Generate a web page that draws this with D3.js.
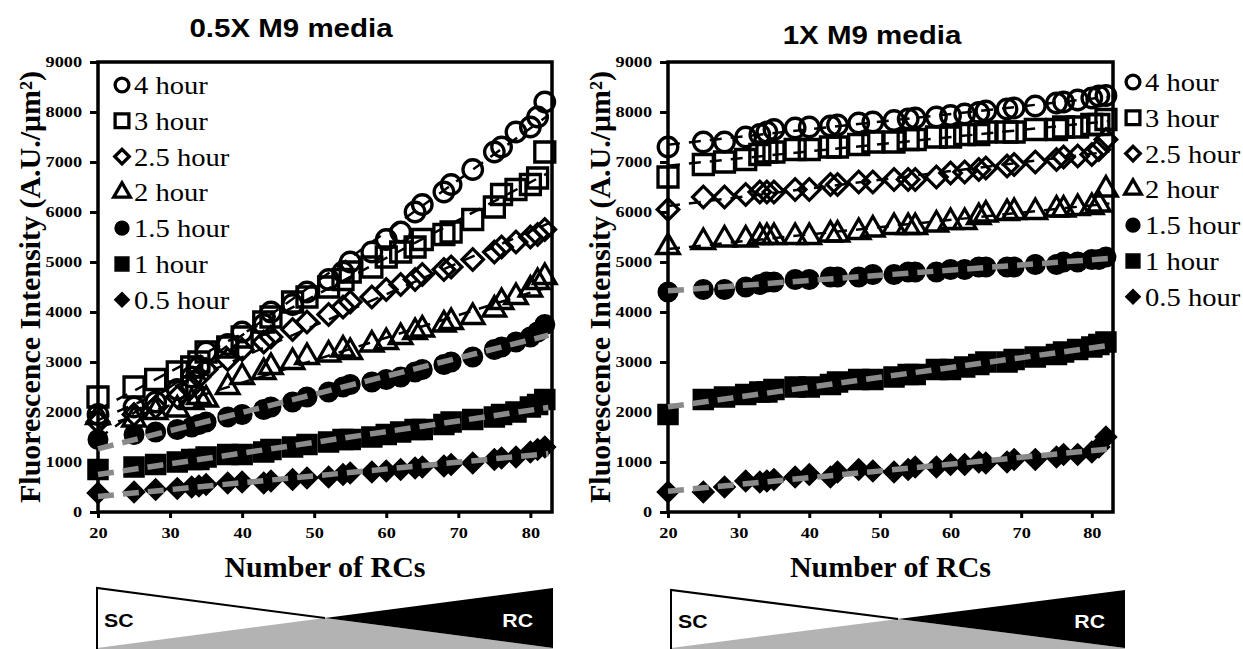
<!DOCTYPE html>
<html>
<head>
<meta charset="utf-8">
<script src="https://cdn.jsdelivr.net/npm/d3@7"></script>
<style>
  body { margin: 0; background: #fff; }
  svg { display: block; }
</style>
</head>
<body>
<svg id="chart" width="1243" height="649"></svg>
<script>
// ---- data ----
var rcs = [20, 25, 28, 31, 33, 34, 35, 38, 40, 43, 44, 47, 49, 52, 54, 55, 58, 60, 62, 64, 65, 68, 69, 72, 75, 76, 78, 80, 81, 82];
var hours = ["4 hour", "3 hour", "2.5 hour", "2 hour", "1.5 hour", "1 hour", "0.5 hour"];
var shapes = ["circle", "square", "diamond", "triangle", "circle", "square", "diamond"];
var filled = [false, false, false, false, true, true, true];
var yTicks = [0, 1000, 2000, 3000, 4000, 5000, 6000, 7000, 8000, 9000];
var xTicks = [20, 30, 40, 50, 60, 70, 80];

// 0.5X M9 media
var half4h  = [1950, 2100, 2200, 2450, 2700, 2900, 3200, 3350, 3600, 3750, 4000, 4150, 4400, 4650, 4800, 5000, 5200, 5450, 5600, 6000, 6150, 6400, 6550, 6850, 7200, 7300, 7600, 7700, 7900, 8200];
var half3h  = [2300, 2500, 2650, 2800, 2900, 3000, 3200, 3300, 3500, 3800, 3900, 4200, 4300, 4500, 4650, 4800, 4900, 5100, 5200, 5300, 5450, 5550, 5600, 5850, 6100, 6350, 6450, 6550, 6680, 7200];
var half25h = [1800, 1950, 2100, 2300, 2500, 2700, 2850, 3050, 3250, 3400, 3500, 3650, 3800, 3950, 4100, 4200, 4300, 4450, 4550, 4650, 4750, 4850, 4900, 5050, 5200, 5300, 5400, 5500, 5550, 5650];
var half2h  = [1900, 1850, 2000, 2050, 2200, 2300, 2250, 2500, 2700, 2800, 2900, 3000, 3100, 3150, 3250, 3200, 3350, 3400, 3500, 3600, 3650, 3750, 3800, 3900, 4050, 4200, 4300, 4450, 4600, 4700];
var half15h = [1450, 1550, 1600, 1650, 1700, 1750, 1800, 1900, 1950, 2050, 2100, 2200, 2300, 2400, 2500, 2550, 2600, 2650, 2700, 2800, 2850, 2950, 3000, 3100, 3250, 3300, 3400, 3500, 3600, 3750];
var half1h  = [850, 900, 950, 1000, 1050, 1050, 1100, 1150, 1150, 1200, 1250, 1300, 1350, 1400, 1450, 1450, 1500, 1550, 1600, 1650, 1650, 1750, 1800, 1850, 1900, 1950, 2000, 2100, 2150, 2250];
var half05h = [380, 400, 450, 470, 500, 520, 550, 580, 600, 580, 620, 650, 680, 700, 750, 780, 800, 820, 850, 880, 900, 920, 950, 980, 1050, 1080, 1100, 1200, 1250, 1300];

// 1X M9 media
var full4h  = [7300, 7400, 7400, 7500, 7550, 7600, 7650, 7680, 7700, 7720, 7740, 7780, 7800, 7830, 7860, 7880, 7900, 7930, 7960, 7990, 8020, 8060, 8080, 8120, 8180, 8200, 8240, 8280, 8320, 8330];
var full3h  = [6700, 6950, 7000, 7050, 7150, 7200, 7200, 7250, 7250, 7300, 7300, 7350, 7400, 7400, 7450, 7450, 7500, 7500, 7550, 7550, 7600, 7600, 7600, 7650, 7650, 7700, 7700, 7750, 7750, 7850];
var full25h = [6050, 6300, 6300, 6350, 6400, 6400, 6400, 6450, 6450, 6550, 6550, 6600, 6600, 6650, 6650, 6650, 6700, 6780, 6800, 6850, 6880, 6920, 6950, 7000, 7050, 7100, 7120, 7150, 7250, 7450];
var full2h  = [5300, 5400, 5450, 5450, 5500, 5500, 5500, 5500, 5500, 5550, 5550, 5600, 5650, 5700, 5700, 5700, 5750, 5800, 5800, 5900, 5950, 5980, 6000, 6000, 6050, 6050, 6080, 6100, 6150, 6450];
var full15h = [4400, 4450, 4450, 4500, 4550, 4600, 4600, 4650, 4650, 4700, 4700, 4700, 4750, 4750, 4800, 4800, 4800, 4850, 4850, 4900, 4900, 4900, 4900, 4950, 4950, 5000, 5000, 5050, 5050, 5100];
var full1h  = [1950, 2250, 2300, 2350, 2400, 2400, 2450, 2500, 2500, 2550, 2600, 2650, 2650, 2700, 2750, 2750, 2850, 2850, 2900, 2950, 3000, 3000, 3050, 3100, 3150, 3200, 3250, 3300, 3350, 3400];
var full05h = [400, 400, 500, 620, 600, 620, 650, 700, 750, 700, 800, 850, 820, 800, 850, 900, 900, 950, 950, 1000, 980, 1000, 1050, 1050, 1100, 1150, 1150, 1200, 1300, 1500];

var serif = "'Liberation Serif', 'Times New Roman', serif";
var sans = "'Liberation Sans', Arial, sans-serif";

var panels = [
  { title: "0.5X M9 media", titleX: 291, titleY: 37,
    left: 98, right: 552, top: 62, bottom: 512, yLabelX: 40,
    legendX: 122, legendY: 85,
    series: [half4h, half3h, half25h, half2h, half15h, half1h, half05h],
    box: { x0: 97, x1: 553, y0: 588, yc: 618 } },
  { title: "1X M9 media", titleX: 872, titleY: 44,
    left: 668, right: 1113, top: 62, bottom: 512, yLabelX: 610,
    legendX: 1133, legendY: 82,
    series: [full4h, full3h, full25h, full2h, full15h, full1h, full05h],
    box: { x0: 671, x1: 1125, y0: 590, yc: 619 } }
];

var svg = d3.select("#chart");

// text that is a bit wider than the font (the figure looks stretched sideways)
function wideText(g, x, y, str, sx) {
  return g.append("text")
    .attr("transform", "translate(" + x + "," + y + ") scale(" + sx + ",1)")
    .text(str);
}

function symbolPath(shape, big) {
  var type = d3.symbolCircle, size;
  if (shape === "circle") { size = big ? 300 : 150; }
  if (shape === "square") { type = d3.symbolSquare; size = big ? 400 : 190; }
  if (shape === "diamond") { type = d3.symbolSquare; size = big ? 230 : 105; }
  if (shape === "triangle") { type = d3.symbolTriangle; size = big ? 220 : 120; }
  return d3.symbol().type(type).size(size)();
}

function styleMark(sel, i) {
  sel.attr("fill", filled[i] ? "#000" : "none")
    .attr("stroke", "#000")
    .attr("stroke-width", filled[i] ? 1.5 : 3.3);
}

panels.forEach(function (p) {
  var g = svg.append("g");

  var x = d3.scaleLinear().domain([20, 83]).range([p.left, p.right]);
  var y = d3.scaleLinear().domain([0, 9000]).range([p.bottom, p.top]);

  // title
  wideText(g, p.titleX, p.titleY, p.title, 1.18)
    .attr("text-anchor", "middle")
    .style("font-family", sans).style("font-weight", "bold").style("font-size", "25px");

  // axes ----------------------------------------------------------
  var yAxis = g.append("g")
    .attr("transform", "translate(" + p.left + ",0)")
    .call(d3.axisLeft(y).tickValues(yTicks).tickSize(8).tickPadding(5).tickFormat(d3.format("d")));
  yAxis.select(".domain").remove();
  yAxis.selectAll("line").attr("stroke-width", 3);
  yAxis.selectAll("text")
    .attr("transform", "scale(1.22,1)")
    .style("font-family", serif).style("font-weight", "bold").style("font-size", "15px");

  var xAxis = g.append("g")
    .attr("transform", "translate(0," + p.bottom + ")")
    .call(d3.axisBottom(x).tickValues(xTicks).tickSize(6).tickPadding(9));
  xAxis.select(".domain").remove();
  xAxis.selectAll("line").attr("stroke-width", 3);
  xAxis.selectAll("text")
    .attr("transform", "scale(1.22,1)")
    .style("font-family", serif).style("font-weight", "bold").style("font-size", "15px");

  // frame
  g.append("rect")
    .attr("x", p.left).attr("y", p.top)
    .attr("width", p.right - p.left).attr("height", p.bottom - p.top)
    .attr("fill", "none").attr("stroke", "#000").attr("stroke-width", 3.5);

  // axis titles
  g.append("text")
    .attr("transform", "translate(" + p.yLabelX + "," + ((p.top + p.bottom) / 2) + ") rotate(-90)")
    .attr("text-anchor", "middle")
    .style("font-family", serif).style("font-weight", "bold").style("font-size", "30px")
    .text("Fluorescence Intensity (A.U./μm²)");

  g.append("text")
    .attr("x", (p.left + p.right) / 2).attr("y", 577)
    .attr("text-anchor", "middle")
    .style("font-family", serif).style("font-weight", "bold").style("font-size", "30px")
    .text("Number of RCs");

  // series, drawn from 0.5 hour up to 4 hour -------------------------
  for (var i = hours.length - 1; i >= 0; i--) {
    var vals = p.series[i];
    var pts = rcs.map(function (r, k) { return { x: r, y: vals[k] }; });

    var marks = g.append("g").selectAll("path")
      .data(pts).enter().append("path")
      .attr("d", symbolPath(shapes[i], true))
      .attr("transform", function (d) {
        return "translate(" + x(d.x) + "," + y(d.y) + ")" + (shapes[i] === "diamond" ? " rotate(45)" : "");
      });
    styleMark(marks, i);

    // linear trend line
    var mx = d3.mean(pts, function (d) { return d.x; });
    var my = d3.mean(pts, function (d) { return d.y; });
    var sxy = d3.sum(pts, function (d) { return (d.x - mx) * (d.y - my); });
    var sxx = d3.sum(pts, function (d) { return (d.x - mx) * (d.x - mx); });
    var slope = sxy / sxx, icpt = my - slope * mx;
    var ends = [20, 82.5].map(function (v) { return { x: v, y: icpt + slope * v }; });
    var line = d3.line().x(function (d) { return x(d.x); }).y(function (d) { return y(d.y); });

    g.append("path")
      .datum(ends)
      .attr("d", line)
      .attr("fill", "none")
      .attr("stroke", filled[i] ? "#8a8a8a" : "#000")
      .attr("stroke-width", filled[i] ? 5.5 : 2.5)
      .attr("stroke-dasharray", filled[i] ? "16,9" : "12,9");
  }

  // legend
  var leg = g.append("g");
  hours.forEach(function (h, i) {
    var ly = p.legendY + i * 35.8;
    var m = leg.append("path")
      .attr("d", symbolPath(shapes[i], false))
      .attr("transform", "translate(" + p.legendX + "," + ly + ")" + (shapes[i] === "diamond" ? " rotate(45)" : ""));
    styleMark(m, i);
    wideText(leg, p.legendX + 12, ly + 9, h, 1.1)
      .style("font-family", serif).style("font-size", "26px");
  });

  // SC / RC composition strip under the plot -------------------------
  var b = p.box, xc = (b.x0 + b.x1) / 2, yb = 2 * b.yc - b.y0, bot = 670;
  var strip = g.append("g");
  strip.append("polygon")
    .attr("points", [[b.x0, yb], [xc, b.yc], [b.x1, yb], [b.x1, bot], [b.x0, bot]].join(" "))
    .attr("fill", "#b3b3b3");
  strip.append("polygon")
    .attr("points", [[b.x1, b.y0], [xc, b.yc], [b.x1, yb]].join(" "))
    .attr("fill", "#000");
  strip.append("polyline")
    .attr("points", [[b.x0, bot], [b.x0, b.y0], [xc, b.yc]].join(" "))
    .attr("fill", "none").attr("stroke", "#000").attr("stroke-width", 2);
  wideText(strip, b.x0 + 7, b.yc + 9, "SC", 1.12)
    .style("font-family", sans).style("font-weight", "bold").style("font-size", "19px");
  wideText(strip, b.x1 - 20, b.yc + 9, "RC", 1.12)
    .attr("text-anchor", "end").attr("fill", "#fff")
    .style("font-family", sans).style("font-weight", "bold").style("font-size", "19px");
});
</script>
</body>
</html>
